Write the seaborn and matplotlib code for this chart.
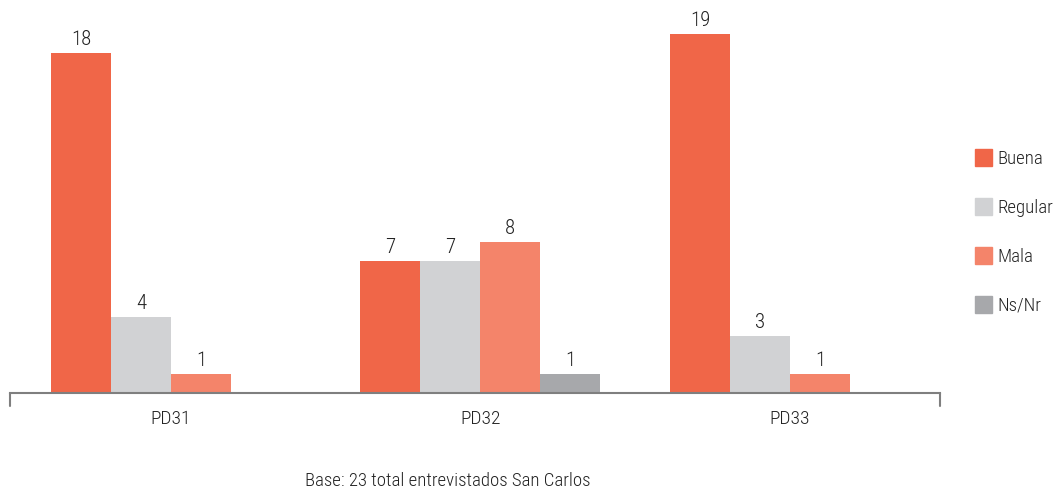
import numpy as np
import pandas as pd
import matplotlib.pyplot as plt
import seaborn as sns
from matplotlib import font_manager

# data
preguntas = ['PD31', 'PD32', 'PD33']
respuestas = ['Buena', 'Regular', 'Mala', 'Ns/Nr']
buena = [18, 7, 19]
regular = [4, 7, 3]
mala = [1, 8, 1]
ns_nr = [np.nan, 1, np.nan]
colores = ['#F06648', '#D1D2D4', '#F4846A', '#A7A8AB']
nota = 'Base: 23 total entrevistados San Carlos'

sns.set_style('white')
names = {f.name for f in font_manager.fontManager.ttflist}
fam = [f for f in ['Roboto Condensed', 'Liberation Sans Narrow', 'Roboto', 'DejaVu Sans'] if f in names]
plt.rcParams['font.family'] = fam
plt.rcParams['font.weight'] = 'light'

rows = []
for serie, vals in zip(respuestas, [buena, regular, mala, ns_nr]):
    for p, v in zip(preguntas, vals):
        rows.append({'Pregunta': p, 'Respuesta': serie, 'Valor': v})
df = pd.DataFrame(rows)

fig = plt.figure(figsize=(10.6, 4.91), dpi=100)
ax = fig.add_axes([10 / 1060, 98 / 491, 930 / 1060, 378 / 491])

sns.barplot(data=df, x='Pregunta', y='Valor', hue='Respuesta', order=preguntas,
            hue_order=respuestas, palette=colores, width=0.775, saturation=1,
            ax=ax, legend=False, linewidth=0)

txt = '#222222'
for c in ax.containers:
    ax.bar_label(c, fmt='%d', padding=3, fontsize=15, color=txt)

ax.set_xlim(-0.52, 2.485)
ax.set_ylim(0, 20)
ax.set_xlabel('')
ax.set_ylabel('')
ax.set_yticks([])
for s in ['top', 'right', 'left']:
    ax.spines[s].set_visible(False)
ax.spines['bottom'].set_color('#7f7f7f')
ax.spines['bottom'].set_linewidth(1.5)
ax.tick_params(axis='x', length=0, pad=12, labelsize=14, labelcolor=txt)

# end ticks on the baseline
for xe in [-0.52, 2.485]:
    ax.plot([xe, xe], [0, -0.7], color='#7f7f7f', lw=1.5, clip_on=False)

handles = [plt.Rectangle((0, 0), 1, 1, color=c) for c in colores]
fig.legend(handles, respuestas, loc='upper left', bbox_to_anchor=(967 / 1060, 1 - 142 / 491),
           frameon=False, fontsize=13.5, labelspacing=1.6, handlelength=0.95,
           handleheight=1.0, handletextpad=0.27, labelcolor=txt, borderaxespad=0)

fig.text(448 / 1060, 10 / 491, nota, ha='center', va='center', fontsize=13.5, color=txt)

fig.savefig('out.png', dpi=100)
